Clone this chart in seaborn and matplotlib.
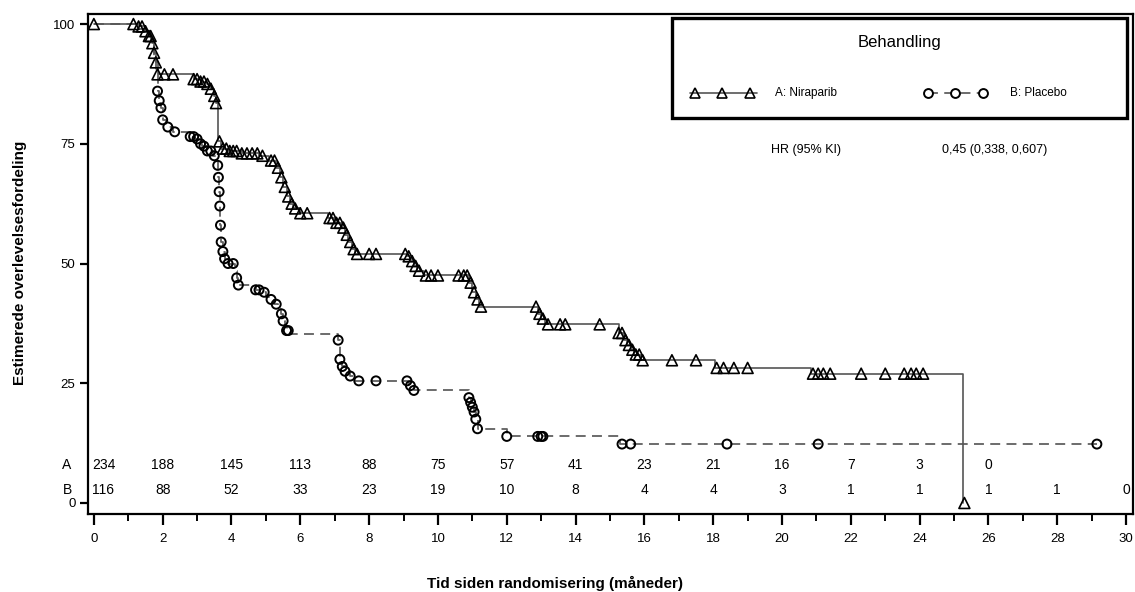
import numpy as np
import pandas as pd
import matplotlib
matplotlib.use('Agg')
import matplotlib.pyplot as plt
from matplotlib.patches import Rectangle
import seaborn as sns

# Kaplan-Meier trin (tid i måneder, overlevelse i %)
nira_tid = [0, 1.3, 1.5, 1.6, 1.7, 1.75, 1.8, 1.85, 2.9, 3.1, 3.3, 3.4, 3.5, 3.55,
            3.6, 3.7, 3.9, 4.3, 4.8, 5.1, 5.3, 5.4, 5.5, 5.6, 5.7, 5.8, 6.0,
            6.8, 7.0, 7.2, 7.3, 7.4, 7.5, 7.6, 9.1, 9.2, 9.3, 9.4, 9.6,
            10.9, 11.0, 11.1, 11.2, 12.9, 13.0, 13.1, 15.25, 15.4, 15.5, 15.6,
            15.7, 15.9, 18.05, 20.85, 25.25]
nira_surv = [100, 99.5, 98.5, 97.5, 96, 94, 92, 89.5, 88.5, 88, 87.5, 86.5, 85, 83.5,
             75.5, 74, 73.5, 73, 72.5, 71.5, 70, 68, 66, 64, 62.5, 61.5, 60.5,
             59.5, 58.5, 57.5, 56, 54.5, 53, 52, 51.5, 50.5, 49.5, 48.5, 47.5,
             46, 44, 42.5, 41, 39.5, 38.5, 37.3, 35.5, 34, 33, 32,
             31, 29.8, 28.2, 27, 0]
nira_cens = [0, 1.15, 1.3, 1.4, 1.5, 1.6, 1.65, 1.7, 1.75, 1.8, 1.85, 2.05, 2.3,
             2.9, 3.0, 3.1, 3.2, 3.3, 3.4, 3.5, 3.55, 3.65, 3.75, 3.85, 3.95,
             4.05, 4.15, 4.3, 4.45, 4.6, 4.75, 4.9, 5.15, 5.25, 5.35, 5.45, 5.55,
             5.65, 5.75, 5.85, 6.0, 6.2, 6.85, 6.95, 7.05, 7.15, 7.25, 7.35, 7.45,
             7.55, 7.65, 8.0, 8.2, 9.05, 9.15, 9.25, 9.35, 9.45, 9.65, 9.8, 10.0,
             10.6, 10.75, 10.85, 10.95, 11.05, 11.15, 11.25, 12.85, 12.95, 13.05,
             13.2, 13.55, 13.7, 14.7, 15.25, 15.35, 15.45, 15.55, 15.65, 15.75,
             15.85, 15.95, 16.8, 17.5, 18.1, 18.3, 18.6, 19.0, 20.9, 21.05, 21.2,
             21.4, 22.3, 23.0, 23.55, 23.75, 23.9, 24.1, 25.3]

plac_tid = [0, 1.3, 1.5, 1.65, 1.75, 1.8, 1.85, 1.9, 1.95, 2.0, 2.1, 2.3, 2.8, 2.95,
            3.05, 3.15, 3.3, 3.45, 3.6, 3.62, 3.64, 3.66, 3.68, 3.7, 3.75, 3.8,
            3.9, 4.1, 4.15, 4.2, 4.7, 4.9, 5.0, 5.1, 5.25, 5.35, 5.45, 5.5, 5.55,
            5.6, 5.7, 7.1, 7.15, 7.2, 7.3, 7.45, 7.6, 9.15, 9.3, 10.9, 10.95,
            11.0, 11.05, 11.1, 11.15, 12.0, 15.3, 29.15]
plac_surv = [100, 99, 98, 96, 93, 89.5, 86, 84, 82.5, 80, 78.5, 77.5, 76.5, 76,
             75, 74.5, 73.5, 72.5, 70.5, 68, 65, 62, 58, 54.5, 52.5, 51,
             50, 48.5, 47, 45.5, 44.5, 44, 43, 42.5, 41.5, 40.5, 39.5, 38, 37,
             36, 35.2, 34, 30, 28.5, 27.5, 26.5, 25.5, 24.5, 23.5, 22, 21,
             20, 19, 17.5, 15.5, 13.9, 12.3, 12.3]
plac_cens = [1.85, 1.9, 1.95, 2.0, 2.15, 2.35, 2.8, 2.9, 3.0, 3.1, 3.2, 3.3, 3.4,
             3.5, 3.6, 3.62, 3.64, 3.66, 3.68, 3.7, 3.75, 3.8, 3.9, 4.05, 4.15,
             4.2, 4.7, 4.8, 4.95, 5.15, 5.3, 5.45, 5.5, 5.6, 5.65, 7.1, 7.15,
             7.22, 7.3, 7.45, 7.7, 8.2, 9.1, 9.2, 9.3, 10.9, 10.95, 11.0, 11.05,
             11.1, 11.15, 12.0, 12.9, 13.0, 13.05, 15.35, 15.6, 18.4, 21.05, 29.15]

# Antal i risiko
risiko_tid = list(range(0, 31, 2))
risiko_a = [234, 188, 145, 113, 88, 75, 57, 41, 23, 21, 16, 7, 3, 0]
risiko_b = [116, 88, 52, 33, 23, 19, 10, 8, 4, 4, 3, 1, 1, 1, 1, 0]

x_ticks = list(range(0, 31, 2))
y_ticks = [0, 25, 50, 75, 100]


def step_value(tid, surv, t):
    idx = np.searchsorted(np.array(tid), np.array(t), side='right') - 1
    return np.array(surv)[idx]


sns.set_style('white')
plt.rcParams['font.family'] = ['Liberation Sans', 'DejaVu Sans']
plt.rcParams['text.color'] = 'black'
plt.rcParams['xtick.color'] = 'black'
plt.rcParams['ytick.color'] = 'black'
plt.rcParams['axes.labelcolor'] = 'black'

fig = plt.figure(figsize=(11.35, 5.92), dpi=100)
ax = fig.add_axes([88 / 1135, 1 - 514 / 592, (1133 - 88) / 1135, 500 / 592])

df_a = pd.DataFrame({'tid': nira_tid, 'surv': nira_surv})
df_b = pd.DataFrame({'tid': plac_tid, 'surv': plac_surv})

sns.lineplot(data=df_b, x='tid', y='surv', drawstyle='steps-post', estimator=None,
             sort=False, color='#606060', lw=1.3, linestyle=(0, (5.5, 3.5)), ax=ax)
sns.lineplot(data=df_a, x='tid', y='surv', drawstyle='steps-post', estimator=None,
             sort=False, color='#555555', lw=1.2, ax=ax)

sns.scatterplot(x=plac_cens, y=step_value(plac_tid, plac_surv, plac_cens), marker='o',
                s=42, facecolor='none', edgecolor='black', linewidth=1.4, ax=ax, zorder=3)
sns.scatterplot(x=nira_cens, y=step_value(nira_tid, nira_surv, nira_cens), marker='^',
                s=62, facecolor='none', edgecolor='black', linewidth=1.2, ax=ax, zorder=4)

# antal i risiko
for i, (t, n) in enumerate(zip(risiko_tid, risiko_a)):
    ax.text(t if i else -0.05, 7.9, str(n), ha='center' if i else 'left', va='center', fontsize=10)
for i, (t, n) in enumerate(zip(risiko_tid, risiko_b)):
    ax.text(t if i else -0.05, 2.7, str(n), ha='center' if i else 'left', va='center', fontsize=10)
ax.text(-0.78, 7.9, 'A', ha='center', va='center', fontsize=10, clip_on=False)
ax.text(-0.78, 2.7, 'B', ha='center', va='center', fontsize=10, clip_on=False)

ax.set_xlim(-0.17, 30.2)
ax.set_ylim(-2.3, 102.1)
ax.set_xticks(x_ticks)
ax.set_xticks(range(1, 30, 2), minor=True)
ax.set_yticks(y_ticks)
ax.tick_params(axis='x', which='major', direction='out', length=8, width=1.6,
               labelsize=9.5, pad=6, bottom=True)
ax.tick_params(axis='x', which='minor', direction='out', length=5, width=1.4, bottom=True)
ax.tick_params(axis='y', direction='out', length=6, width=1.6, labelsize=9.5, pad=3, left=True)
for s in ax.spines.values():
    s.set_visible(True)
    s.set_color('black')
    s.set_linewidth(1.6)
ax.set_xlabel('')
ax.set_ylabel('')

fig.text(555 / 1135, 1 - 583 / 592, 'Tid siden randomisering (måneder)', ha='center',
         va='center', fontsize=11, fontweight='bold')
fig.text(20 / 1135, 1 - 263 / 592, 'Estimerede overlevelsesfordeling', ha='center',
         va='center', rotation=90, fontsize=11, fontweight='bold')

# forklaringsboks
fig.patches.append(Rectangle((672 / 1135, 1 - 118 / 592), 455 / 1135, 100 / 592,
                             transform=fig.transFigure, fill=False, edgecolor='black',
                             linewidth=2.4, zorder=5))
fig.text(900 / 1135, 1 - 42 / 592, 'Behandling', ha='center', va='center', fontsize=12)
leg_y = 1 - 93 / 592
lax = fig.add_axes([0, 0, 1, 1], facecolor='none')
lax.set_axis_off()
lax.set_xlim(0, 1)
lax.set_ylim(0, 1)
lax.plot([690 / 1135, 757 / 1135], [leg_y, leg_y], color='#555555', lw=1.2)
lax.plot([695 / 1135, 722 / 1135, 750 / 1135], [leg_y] * 3, ls='none', marker='^', ms=7.8,
         mfc='none', mec='black', mew=1.2)
lax.plot([928 / 1135, 990 / 1135], [leg_y, leg_y], color='#606060', lw=1.3,
         linestyle=(0, (5.5, 3.5)))
lax.plot([928 / 1135, 955 / 1135, 983 / 1135], [leg_y] * 3, ls='none', marker='o', ms=6.4,
         mfc='white', mec='black', mew=1.4)
fig.text(775 / 1135, leg_y, 'A: Niraparib', ha='left', va='center', fontsize=8.5)
fig.text(1010 / 1135, leg_y, 'B: Placebo', ha='left', va='center', fontsize=8.5)
fig.text(806 / 1135, 1 - 150 / 592, 'HR (95% KI)', ha='center', va='center', fontsize=9)
fig.text(995 / 1135, 1 - 150 / 592, '0,45 (0,338, 0,607)', ha='center', va='center', fontsize=9)

fig.savefig('out.png', dpi=100)
